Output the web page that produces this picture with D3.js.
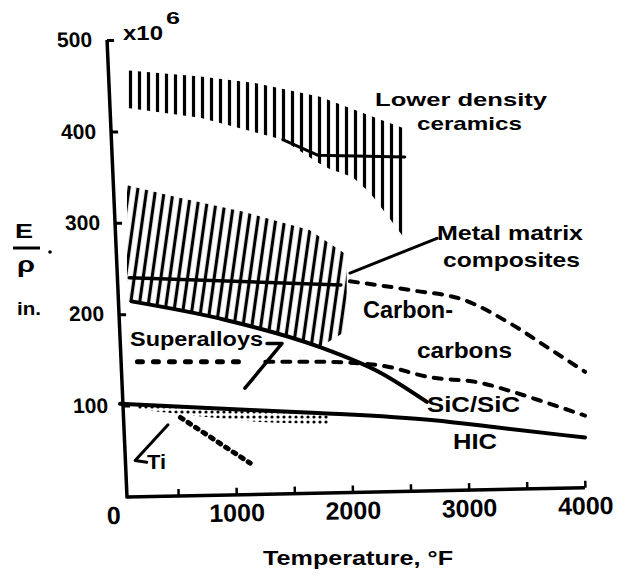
<!DOCTYPE html>
<html><head><meta charset="utf-8">
<script src="https://cdn.jsdelivr.net/npm/d3@7"></script>
<style>
body{margin:0;background:#fff}
text{font-family:"Liberation Sans",Arial,sans-serif;font-weight:bold;fill:#000}
</style>
</head><body>
<svg id="c" width="627" height="577"></svg>
<script>
// ---------- data (temperature °F, E/rho in 10^6 in.) ----------
const xTickValues = [0, 500, 1000, 1500, 2000, 2500, 3000, 3500, 4000];
const xTickLabels = ["0", "", "1000", "", "2000", "", "3000", "", "4000"];
const yTickValues = [100, 200, 300, 400, 500];
const yTickLabels = ["100", "200", "300", "400", "500"];

// Lower density ceramics band
const ceramicsTop = [[50,467],[690,460],[1160,453],[1720,438],[2260,412],[2470,402]];
const ceramicsBottom = [[50,426],[690,415],[1400,391],[1700,366],[1800,359],[2000,350],[2150,333],[2300,308],[2470,279]];
const ceramicsEdge = [[1400,391],[1700,374],[2450,372]];

// Metal matrix composites band
const mmcTop = [[60,341],[490,328],[1060,312],[1630,292],[1950,265]];
const mmcBottom = [[60,214],[900,194],[1720,164],[1950,182]];
const mmcEdge = [[80,240],[1900,232]];

// SiC/SiC
const sicsic = [[100,214],[900,194],[1720,164],[2240,136],[2640,104]];
// HIC
const hic = [[0,102],[800,97],[1700,92],[2700,84],[3250,76],[4000,65]];
// Carbon-carbons bounds
const ccUpper = [[1978,236],[2520,226],[2950,216],[3355,190],[3673,164],[4000,137]];
const ccLower = [[1250,148],[1720,148],[2237,144],[2667,131],[3097,125],[3381,115],[3673,103],[4000,89]];
// Superalloys
const superalloys = [[150,148],[1050,148]];
// Ti
const tiEdge = [[520,87],[1120,37]];
const tiStippleTop = [[150,101],[800,97],[1800,91]];
const tiStippleBottom = [[1800,79],[1200,82],[700,88],[150,96]];

// leaders
const mmcLeader = [[1978,245],[2727,283]];
const superLeader = [[1265,168],[1394,168],[1075,119]];
const tiLeader = [[413,79],[130,40],[230,38]];

// ---------- drawing ----------
const svg = d3.select("#c");
const x = d3.scaleLinear().domain([0,4000]).range([120,585]);
const y = d3.scaleLinear().domain([0,500]).range([497,40]);
const line = d3.line().x(d=>x(d[0])).y(d=>y(d[1]));
const curve = d3.line().x(d=>x(d[0])).y(d=>y(d[1])).curve(d3.curveMonotoneX);

const defs = svg.append("defs");
const p1 = defs.append("pattern").attr("id","vh").attr("patternUnits","userSpaceOnUse")
  .attr("width",9).attr("height",20);
p1.append("line").attr("x1",4.5).attr("x2",4.5).attr("y1",-1).attr("y2",21)
  .attr("stroke","#000").attr("stroke-width",3.2);
const p2 = defs.append("pattern").attr("id","dh").attr("patternUnits","userSpaceOnUse")
  .attr("width",8.8).attr("height",20).attr("patternTransform","rotate(8)");
p2.append("line").attr("x1",4.4).attr("x2",4.4).attr("y1",-1).attr("y2",21)
  .attr("stroke","#000").attr("stroke-width",3.2);
const p3 = defs.append("pattern").attr("id","st").attr("patternUnits","userSpaceOnUse")
  .attr("width",6).attr("height",5);
p3.append("circle").attr("cx",2).attr("cy",2).attr("r",1.6).attr("fill","#000");

function band(pts, fill){
  svg.append("path").attr("d", line(pts) + "Z").attr("fill", fill);
}
band(ceramicsTop.concat(ceramicsBottom.slice().reverse()), "url(#vh)");
band(mmcTop.concat(mmcBottom.slice().reverse()), "url(#dh)");
band(tiStippleTop.concat(tiStippleBottom), "url(#st)");

function stroke(data, w, dash, gen){
  const p = svg.append("path").attr("d",(gen||line)(data)).attr("fill","none")
    .attr("stroke","#000").attr("stroke-width",w)
    .attr("stroke-linecap","round").attr("stroke-linejoin","round");
  if(dash) p.attr("stroke-dasharray",dash);
  return p;
}
stroke(ceramicsEdge, 3);
stroke(mmcEdge, 3.5);
stroke(sicsic, 4, null, curve);
stroke(hic, 4, null, curve);
stroke(ccUpper, 4, "8,9", curve);
stroke(ccLower, 4, "8,9", curve);
stroke(superalloys, 5, "5,11");
stroke(tiEdge, 5, "3,6");
stroke(mmcLeader, 3);
stroke(superLeader, 3.5);
stroke(tiLeader, 3);

// axes
const xa = svg.append("g").attr("transform","rotate(-1.15,127,497) translate(0,497)");
xa.call(d3.axisBottom(x).tickValues(xTickValues)
  .tickFormat((d,i)=>xTickLabels[i]).tickSizeInner(-7).tickSizeOuter(0).tickPadding(9));
xa.select(".domain").remove();
xa.selectAll(".tick line").attr("stroke","#000").attr("stroke-width",2.5)
  .filter(d=>d===0).remove();
xa.selectAll(".tick text").style("font-size","25px").style("font-family",null)
  .attr("dx", d=>d===0 ? -7 : 0);
xa.append("line").attr("x1",x(60)).attr("x2",x(4000)).attr("y1",0).attr("y2",0)
  .attr("stroke","#000").attr("stroke-width",3.5);

const ya = svg.append("g").attr("transform","translate(127,497) skewX(2.5) translate(-127,-497) translate(127,0)");
ya.call(d3.axisLeft(y).tickValues(yTickValues)
  .tickFormat((d,i)=>yTickLabels[i]).tickSizeInner(-7).tickSizeOuter(0).tickPadding(15));
ya.select(".domain").remove();
ya.selectAll(".tick line").attr("stroke","#000").attr("stroke-width",3);
ya.selectAll(".tick text").style("font-size","21px").style("font-family",null);
ya.append("line").attr("x1",0).attr("x2",0).attr("y1",y(0)+1.5).attr("y2",y(500))
  .attr("stroke","#000").attr("stroke-width",3.5);

// labels
function label(t, x0, cy, size, len){
  const e = svg.append("text").attr("x",x0).attr("y",cy).attr("dominant-baseline","central")
    .style("font-size",size+"px").text(t);
  if(len) e.attr("textLength",len).attr("lengthAdjust","spacingAndGlyphs");
  return e;
}
label("Lower density", 375, 99, 19, 172);
label("ceramics", 417, 123, 19, 105);
label("Metal matrix", 437, 232, 21, 146);
label("composites", 443, 259, 21, 137);
label("Carbon-", 363, 310, 23, 90);
label("carbons", 417, 350, 22, 95);
label("SiC/SiC", 427, 404, 22, 93);
label("HIC", 453, 441, 22, 44);
label("Superalloys", 130, 339, 20, 133);
label("Ti", 147, 461, 21, 19);
label("Temperature, °F", 263, 557, 21, 190);

// y axis title
label("E", 15, 231, 20, 18);
svg.append("line").attr("x1",13).attr("x2",40).attr("y1",248).attr("y2",248)
  .attr("stroke","#000").attr("stroke-width",3);
label("ρ", 17, 264, 22, 18);
svg.append("circle").attr("cx",50).attr("cy",252).attr("r",1.8).attr("fill","#000");
label("in.", 17, 309, 18, 24);
// multiplier
label("x10", 123, 33, 20, 40);
label("6", 166, 18, 17, 14);
</script>
</body></html>
